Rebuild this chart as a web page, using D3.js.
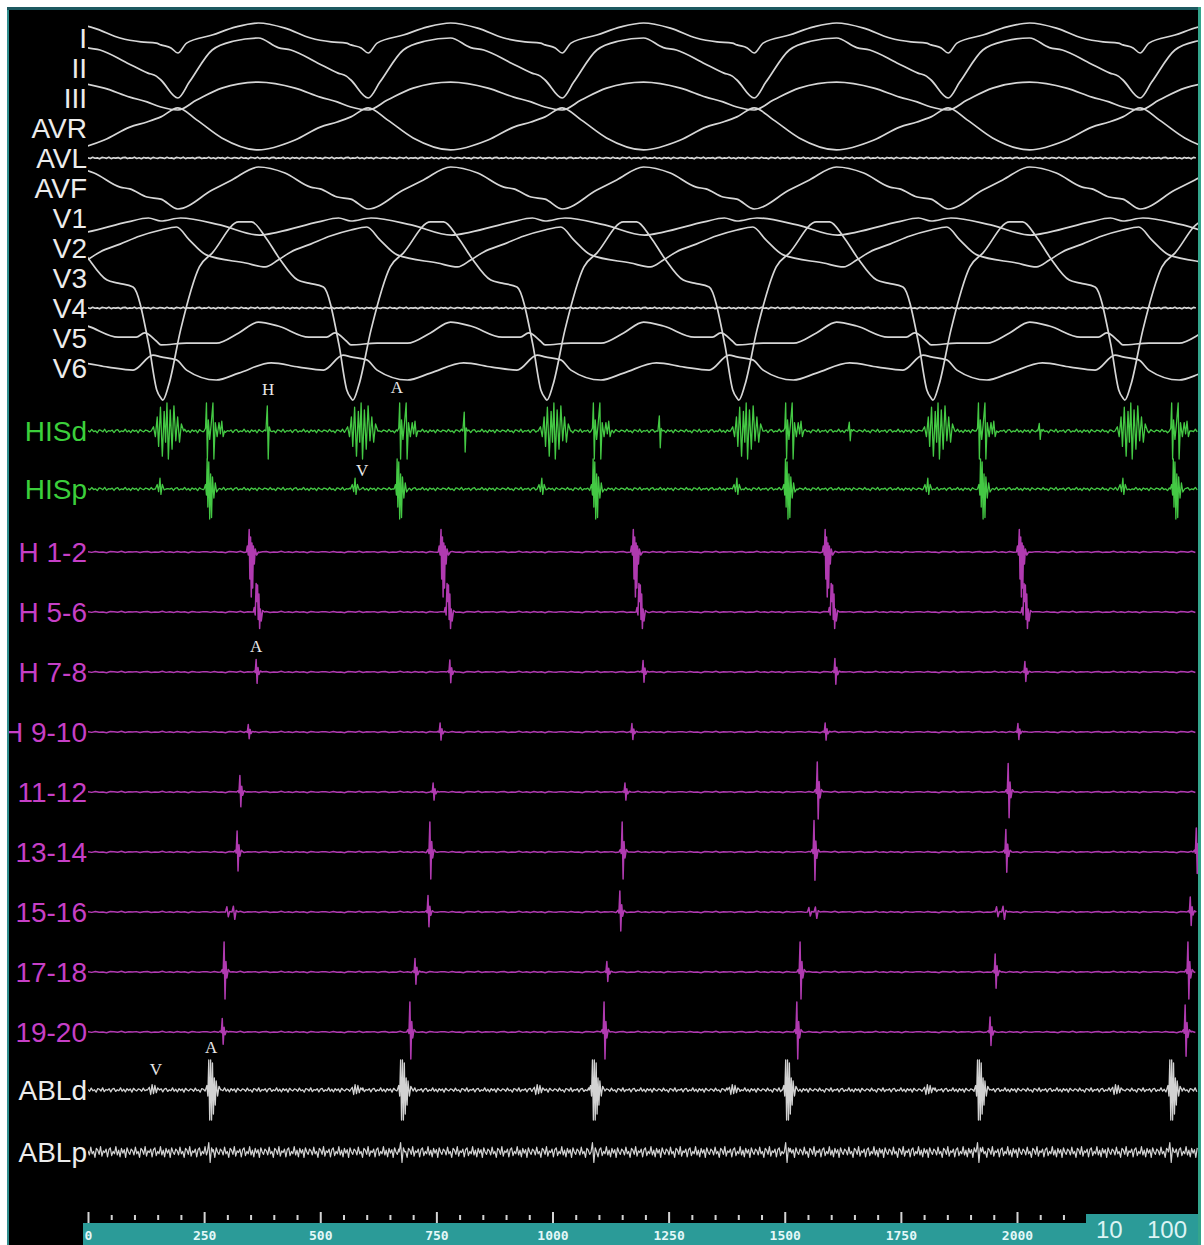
<!DOCTYPE html>
<html>
<head>
<meta charset="utf-8">
<script src="https://cdn.jsdelivr.net/npm/d3@7"></script>
<style>
  body { margin: 0; background: #ffffff; }
  svg { display: block; }
</style>
</head>
<body>
<div id="chart"></div>
<script>
// Data
// ------------------------------------------------------------------------------------------

// Surface ECG: onset of each beat (ms, nadir of V3) and one beat per lead as [ms, mV]
const cycleStarts = [-258, 157, 566, 984, 1397, 1815, 2228, 2643];
const cycleLength = 415;

const leadNames = ["I", "II", "III", "AVR", "AVL", "AVF", "V1", "V2", "V3", "V4", "V5", "V6"];
const leadI   = [[0,-0.23],[22,-0.33],[37,-0.5],[56,-0.17],[112,0.1],[164,0.37],[213,0.5],[271,0.33],[327,0],[372,-0.13],[405,-0.17]];
const leadII  = [[0,-0.4],[37,-1.0],[62,-0.47],[112,0.6],[160,0.9],[213,1.0],[256,0.68],[284,0.6],[342,0.17],[387,-0.17],[405,-0.27]];
const leadIII = [[0,-0.3],[37,-0.4],[78,-0.07],[133,0.33],[213,0.53],[293,0.33],[348,0.03],[385,-0.13]];
const leadAVR = [[0,0.37],[37,0.67],[78,0.27],[133,-0.33],[213,-0.73],[293,-0.4],[348,0.03],[385,0.2]];
const leadAVL = [[0,0]];
const leadAVF = [[0,-0.37],[37,-0.7],[112,-0.07],[155,0.27],[213,0.7],[271,0.5],[327,0.03],[348,-0.03],[385,-0.3]];
const leadV1  = [[0,-0.1],[43,0],[129,-0.23],[215,-0.57],[256,-0.47],[344,-0.13],[388,0]];
const leadV2  = [[0,0.6],[34,0.7],[62,0.27],[99,-0.23],[185,-0.5],[228,-0.63],[256,-0.4],[284,-0.13],[327,0.13],[370,0.4]];
const leadV3  = [[0,-4.0],[4,-4.07],[17,-3.57],[43,-1.73],[84,0.37],[112,0.83],[170,1.87],[198,1.87],[228,1.37],[258,0.67],[299,-0.07],[323,-0.17],[355,-0.3],[389,-2.23],[406,-3.73]];
const leadV4  = [[0,0]];
const leadV5  = [[0,-0.23],[56,-0.17],[121,-0.17],[170,0.17],[213,0.53],[256,0.4],[323,0.03],[362,0.03],[380,0.17],[405,-0.1]];
const leadV6  = [[0,0.37],[34,0.27],[56,-0.07],[121,-0.4],[170,-0.17],[241,0.17],[301,0.03],[355,-0.07],[398,0.43]];
const leadBeats = [leadI, leadII, leadIII, leadAVR, leadAVL, leadAVF, leadV1, leadV2, leadV3, leadV4, leadV5, leadV6];

// His bundle catheter: activation times (ms)
const hisdV = [168, 586, 1001, 1415, 1828, 2243];
const hisdA = [256, 672, 1089, 1503, 1918, 2334];
const hisdH = [388, 812, 1232, 1641, 2050];
const hisdHAmp = [1.0, 0.75, 0.6, 0.35, 0.3];
const hispV = [155, 575, 977, 1397, 1808, 2228];
const hispA = [258, 667, 1089, 1503, 1923, 2338];

// Halo catheter: activation times (ms), amplitudes (mV) and electrogram kind
const haloNames = ["H 1-2", "H 5-6", "H 7-8", "H 9-10", "11-12", "13-14", "15-16", "17-18", "19-20"];
const haloTimes = [
  [349, 762, 1176, 1589, 2007],
  [364, 775, 1188, 1602, 2017],
  [362, 779, 1195, 1608, 2017],
  [345, 758, 1171, 1587, 2002],
  [327, 743, 1156, 1570, 1981],
  [321, 736, 1150, 1563, 1976, 2386],
  [306, 732, 1145, 1559, 1963, 2373],
  [293, 704, 1117, 1533, 1953, 2368],
  [289, 693, 1111, 1526, 1942, 2362]
];
const haloAmps = [
  [1, 1, 1, 1, 1],
  [1, 1, 1, 1, 1],
  [0.42, 0.4, 0.38, 0.45, 0.35],
  [0.25, 0.3, 0.28, 0.3, 0.28],
  [0.55, 0.3, 0.3, 1.0, 0.95],
  [0.7, 1.0, 1.0, 1.05, 0.75, 0.8],
  [0.35, 0.55, 0.7, 0.3, 0.35, 0.5],
  [1.0, 0.45, 0.35, 1.0, 0.6, 1.0],
  [0.45, 1.0, 1.0, 1.0, 0.5, 0.9]
];
const haloKinds = [
  ["fracDown", "fracDown", "fracDown", "fracDown", "fracDown"],
  ["fracUp", "fracUp", "fracUp", "fracUp", "fracUp"],
  ["sharp", "sharp", "sharp", "sharp", "sharp"],
  ["sharp", "sharp", "sharp", "sharp", "sharp"],
  ["sharp", "sharp", "sharp", "sharp", "sharp"],
  ["sharp", "sharp", "sharp", "sharp", "sharp", "sharp"],
  ["double", "sharp", "sharp", "double", "double", "sharp"],
  ["sharp", "sharp", "sharp", "sharp", "sharp", "sharp"],
  ["sharp", "sharp", "sharp", "sharp", "sharp", "sharp"]
];

// Ablation catheter: activation times (ms)
const ablV = [144, 581, 973, 1393, 1813, 2218];
const ablA = [263, 676, 1089, 1505, 1918, 2332];

const shapes = {
  sharp:    [[-7,0],[-4,0.08],[-2,-0.05],[0,1],[2,-0.9],[4,0.35],[6,-0.2],[9,0.08],[13,0]],
  double:   [[-10,0],[-7,0.5],[-4,-0.45],[-1,0.05],[4,0],[7,0.55],[10,-0.7],[13,0.15],[17,0]],
  fracDown: [[-8,0],[-6,0.2],[-4,-0.1],[-2,0.75],[-0.5,-0.9],[1,0.5],[2.5,-1.5],[4,0.3],[5.5,-1.2],[7,0.2],[9,-0.4],[11,0.1],[14,-0.1],[18,0]],
  fracUp:   [[-8,0],[-6,0.15],[-4,-0.1],[-2,0.95],[-0.5,0.35],[1,0.9],[2.5,-0.25],[4,0.6],[5.5,-0.55],[7,0.1],[9,-0.3],[12,0.05],[16,0]],
  hisV:     [[-32,0],[-27,0.15],[-23,-0.2],[-19,0.5],[-16,-0.55],[-12,0.85],[-8,-0.9],[-4,0.7],[-1,-0.4],[2,1],[5,-1],[9,0.75],[13,-0.65],[17,0.9],[21,-0.35],[25,0.5],[29,-0.4],[33,0.25],[38,0]],
  hisA:     [[-6,0],[-3,0.1],[-1,1],[1,-1],[3,0.4],[6,-0.3],[9,0.2],[13,1],[15,-1],[18,0.3],[22,-0.2],[26,0.3],[29,-0.1],[32,0.35],[35,-0.2],[38,0]],
  hisH:     [[-5,0],[-2,0.9],[0,-1],[2,0.15],[5,0]],
  hispV:    [[-10,0],[-6,0.25],[-3,-0.15],[0,0.6],[2,-0.3],[5,0.25],[9,-0.05],[13,0]],
  hispA:    [[-8,0],[-5,0.15],[-3,-0.2],[-1.5,1],[0,-0.6],[2,0.9],[4,-1],[6,0.5],[8,-0.95],[10,0.4],[13,-0.3],[16,0.2],[19,-0.1],[23,0]],
  ablA:     [[-10,0],[-7,0.15],[-5,-0.2],[-3,1],[-1,-1],[1,1],[3,-1],[5,0.9],[7,-0.8],[9,0.4],[11,-0.5],[13,0.3],[16,-0.2],[19,0.12],[23,0]],
  ablV:     [[-16,0],[-12,0.15],[-9,-0.25],[-6,0.3],[-3,-0.2],[0,0.25],[3,-0.15],[6,0.12],[10,0]],
  ablpA:    [[-6,0],[-3,0.45],[0,-0.5],[3,0.2],[6,0]]
};

// Baseline texture of the recording (relative units, repeated along a trace)
const ripple = [0.2,-0.5,0.8,-0.3,0.1,-0.9,0.6,0.3,-0.4,0.9,-0.7,0.2,-0.1,0.5,-0.8,0.4,0.7,-0.6,0.1,-0.3,0.9,-0.5,0.3,-0.8,0.6,-0.2,0.4,-0.9,0.7,0.0,-0.4,0.5];

// Time axis
const majorTicks = [0, 250, 500, 750, 1000, 1250, 1500, 1750, 2000];
const minorStep = 50;
const gainLabel = ["10", "100"];

// Annotations
const notes = [
  { text: "H", t: 388, row: "HISd", dy: -36 },
  { text: "A", t: 665, row: "HISd", dy: -38 },
  { text: "V", t: 590, row: "HISp", dy: -13 },
  { text: "A", t: 362, row: "H 7-8", dy: -20 },
  { text: "A", t: 265, row: "ABLd", dy: -37 },
  { text: "V", t: 146, row: "ABLd", dy: -15 }
];


// Chart
// ------------------------------------------------------------------------------------------

const W = 1204, H = 1245;
const x = d3.scaleLinear().domain([0, 2000]).range([88, 1017]);
const tEnd = x.invert(1198);

const svg = d3.select("#chart").append("svg").attr("width", W).attr("height", H);

svg.append("rect").attr("width", W).attr("height", H).attr("fill", "#ffffff");
svg.append("rect").attr("x", 8).attr("y", 8).attr("width", 1190).attr("height", H - 8).attr("fill", "#000000");
svg.append("rect").attr("x", 7).attr("y", 7).attr("width", 2).attr("height", H - 7).attr("fill", "#2f8d8d");
svg.append("rect").attr("x", 7).attr("y", 7).attr("width", 1194).attr("height", 3).attr("fill", "#1d5960");
svg.append("rect").attr("x", 1198).attr("y", 7).attr("width", 3).attr("height", H - 7).attr("fill", "#34a58c");

const defs = svg.append("defs");
defs.append("clipPath").attr("id", "traceClip")
  .append("rect").attr("x", 88).attr("y", 10).attr("width", 1110).attr("height", 1200);
defs.append("clipPath").attr("id", "labelClip")
  .append("rect").attr("x", 9).attr("y", 10).attr("width", 200).attr("height", 1200);

const gTraces = svg.append("g").attr("clip-path", "url(#traceClip)");
const gLabels = svg.append("g").attr("clip-path", "url(#labelClip)");

// Points of a periodic surface lead, each beat stretched to its own cycle length
function beatPoints(beat, noise) {
  if (noise) {
    // flat leads: only baseline texture
    const out = [];
    for (let i = 0, t = 0; t <= tEnd; i++, t += 5) out.push([t, noise * ripple[i % ripple.length]]);
    return out;
  }
  const pts = [];
  for (let k = 0; k < cycleStarts.length - 1; k++) {
    const t0 = cycleStarts[k], len = cycleStarts[k + 1] - t0;
    beat.forEach(([ph, v]) => pts.push([t0 + ph / cycleLength * len, v]));
  }
  return pts;
}

// Points of an electrogram: baseline texture plus the activation complexes
function egmPoints(events, noise, step) {
  const spans = events.map(e => [e.t + e.shape[0][0], e.t + e.shape[e.shape.length - 1][0]]);
  const pts = [];
  for (let i = 0, t = 0; t <= tEnd; i++, t += step) {
    if (spans.some(s => t >= s[0] && t <= s[1])) continue;
    pts.push([t, noise * ripple[i % ripple.length]]);
  }
  events.forEach(e => e.shape.forEach(([dt, v]) => pts.push([e.t + dt, e.amp * v])));
  pts.sort((a, b) => a[0] - b[0]);
  return pts;
}

const channels = [];

// Surface leads
leadNames.forEach((name, i) => {
  const flat = name === "AVL" || name === "V4";
  channels.push({
    name, base: 38 + i * 30, gain: 30, color: "#d6d6d6", labelColor: "#ececec", width: 1.7,
    curve: flat ? d3.curveLinear : d3.curveMonotoneX,
    points: beatPoints(leadBeats[i], flat ? 0.03 : 0)
  });
});

// His catheter
channels.push({
  name: "HISd", base: 431, gain: 28, color: "#44c944", labelColor: "#3bcf3b", width: 1.3, curve: d3.curveLinear,
  points: egmPoints([
    ...hisdV.map(t => ({ t, amp: 1, shape: shapes.hisV })),
    ...hisdA.map(t => ({ t, amp: 1, shape: shapes.hisA })),
    ...hisdH.map((t, i) => ({ t, amp: hisdHAmp[i], shape: shapes.hisH }))
  ], 0.07, 4)
});
channels.push({
  name: "HISp", base: 489, gain: 30, color: "#44c944", labelColor: "#3bcf3b", width: 1.3, curve: d3.curveLinear,
  points: egmPoints([
    ...hispV.map(t => ({ t, amp: 0.6, shape: shapes.hispV })),
    ...hispA.map(t => ({ t, amp: 1, shape: shapes.hispA }))
  ], 0.06, 4)
});

// Halo catheter
haloNames.forEach((name, i) => {
  channels.push({
    name, base: 552 + i * 60, gain: 30, color: "#b03ab0", labelColor: "#c63fc6", width: 1.5, curve: d3.curveLinear,
    points: egmPoints(haloTimes[i].map((t, j) => ({ t, amp: haloAmps[i][j], shape: shapes[haloKinds[i][j]] })), 0.025, 8)
  });
});

// Ablation catheter
channels.push({
  name: "ABLd", base: 1090, gain: 30, color: "#d2d2d2", labelColor: "#ececec", width: 1.3, curve: d3.curveLinear,
  points: egmPoints([
    ...ablV.map(t => ({ t, amp: 0.6, shape: shapes.ablV })),
    ...ablA.map(t => ({ t, amp: 1, shape: shapes.ablA }))
  ], 0.08, 3.5)
});
channels.push({
  name: "ABLp", base: 1152, gain: 30, color: "#d2d2d2", labelColor: "#ececec", width: 1.2, curve: d3.curveLinear,
  points: egmPoints(ablA.map(t => ({ t, amp: 0.7, shape: shapes.ablpA })), 0.2, 3)
});

// Draw traces and labels
channels.forEach(ch => {
  const y = d3.scaleLinear().domain([-1, 1]).range([ch.base + ch.gain, ch.base - ch.gain]);
  const line = d3.line().x(d => x(d[0])).y(d => y(d[1])).curve(ch.curve);

  gTraces.append("path")
    .datum(ch.points)
    .attr("d", line)
    .style("fill", "none")
    .style("stroke", ch.color)
    .style("stroke-width", ch.width)
    .style("stroke-linejoin", "round");

  gLabels.append("text")
    .attr("x", 87)
    .attr("y", ch.base + 10)
    .attr("text-anchor", "end")
    .style("font-family", "'Liberation Sans', Arial, sans-serif")
    .style("font-size", "28px")
    .style("fill", ch.labelColor)
    .text(ch.name);
});

// Annotations
const byName = Object.fromEntries(channels.map(c => [c.name, c]));
svg.append("g").selectAll("text")
  .data(notes)
  .join("text")
    .attr("x", d => x(d.t))
    .attr("y", d => byName[d.row].base + d.dy)
    .attr("text-anchor", "middle")
    .style("font-family", "'Liberation Serif', 'Times New Roman', serif")
    .style("font-size", "17px")
    .style("fill", "#e8e8e8")
    .text(d => d.text);

// Time axis
svg.append("rect").attr("x", 83).attr("y", 1223).attr("width", 1004).attr("height", H - 1223).attr("fill", "#2b9b98");
svg.append("rect").attr("x", 1086).attr("y", 1214).attr("width", 112).attr("height", H - 1214).attr("fill", "#2b9b98");

const minorTicks = d3.range(0, 2101, minorStep).filter(v => v % 250 !== 0);

const gMinor = svg.append("g").attr("transform", "translate(0,1220)")
  .call(d3.axisTop(x).tickValues(minorTicks).tickSize(5).tickFormat(""));
const gMajor = svg.append("g").attr("transform", "translate(0,1223)")
  .call(d3.axisTop(x).tickValues(majorTicks).tickSize(11).tickFormat(""));
[gMinor, gMajor].forEach(g => {
  g.select(".domain").remove();
  g.selectAll("line").style("stroke", "#d4d4d4").style("stroke-width", 2);
});

const gTickText = svg.append("g").attr("transform", "translate(0,1229)")
  .call(d3.axisBottom(x).tickValues(majorTicks).tickSize(0).tickPadding(2).tickFormat(d3.format("d")));
gTickText.select(".domain").remove();
gTickText.selectAll("text")
  .style("font-family", "'DejaVu Sans Mono', monospace")
  .style("font-weight", "bold")
  .style("font-size", "13px")
  .style("fill", "#e4f8f8");

svg.append("text").attr("x", 1096).attr("y", 1238)
  .style("font-family", "'Liberation Sans', Arial, sans-serif").style("font-size", "24px").style("fill", "#dcf4f4")
  .text(gainLabel[0]);
svg.append("text").attr("x", 1147).attr("y", 1238)
  .style("font-family", "'Liberation Sans', Arial, sans-serif").style("font-size", "24px").style("fill", "#dcf4f4")
  .text(gainLabel[1]);
</script>
</body>
</html>
